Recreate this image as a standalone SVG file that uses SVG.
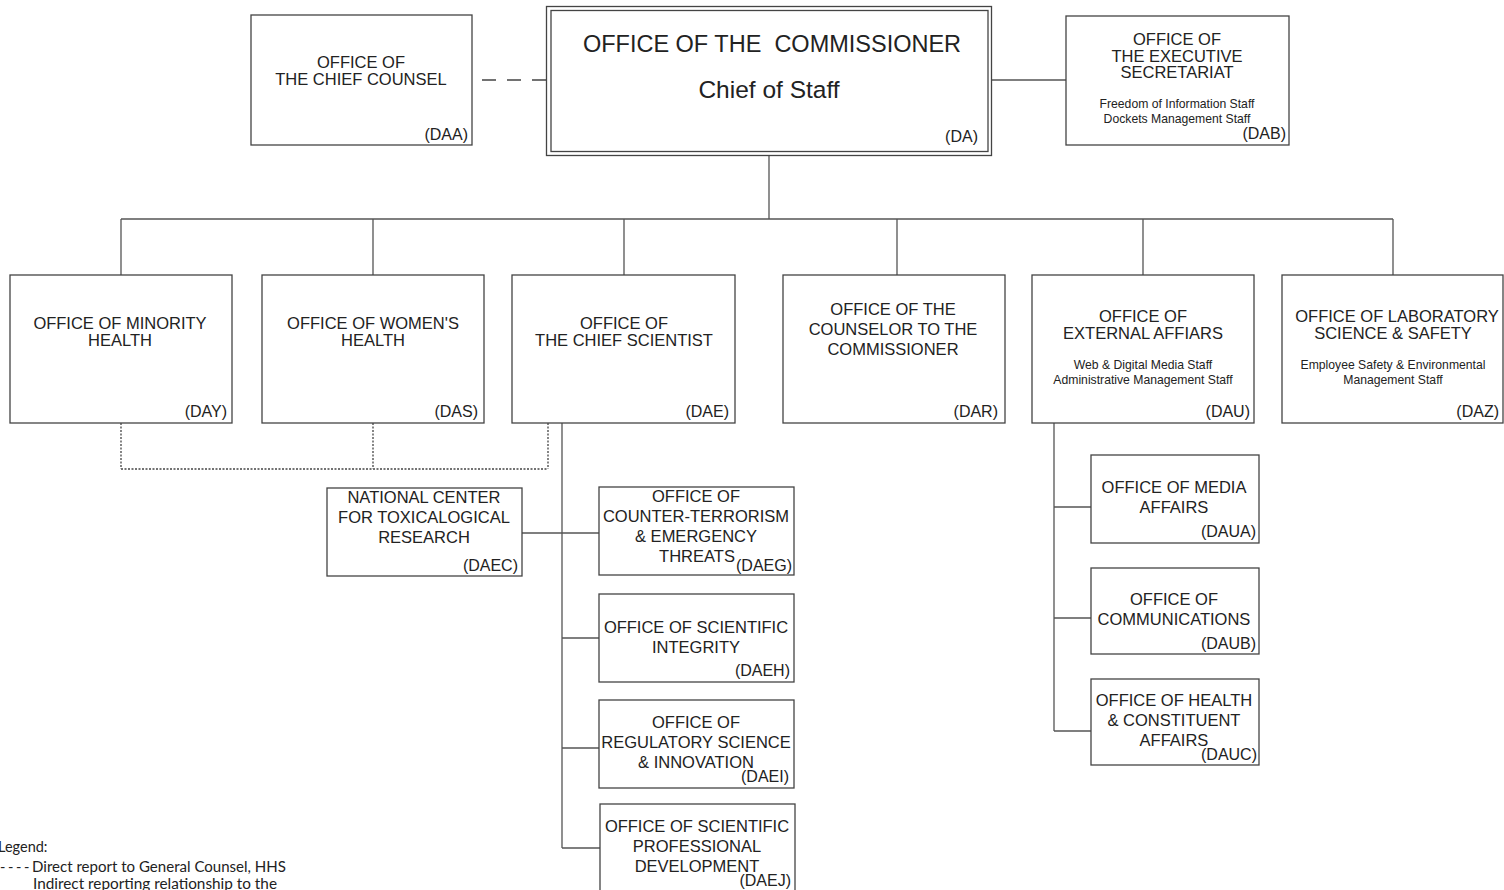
<svg xmlns="http://www.w3.org/2000/svg" width="1504" height="890" viewBox="0 0 1504 890">
<style>
.box{fill:#fff;stroke:#444;stroke-width:1.3}
.t{font-family:"Liberation Sans",Arial,sans-serif;font-size:16.5px;fill:#222;text-anchor:middle}
.c{font-family:"Liberation Sans",Arial,sans-serif;font-size:16px;fill:#222;text-anchor:end}
.s{font-family:"Liberation Sans",Arial,sans-serif;font-size:12.2px;fill:#222;text-anchor:middle}
.big{font-family:"Liberation Sans",Arial,sans-serif;font-size:23.5px;fill:#222;text-anchor:middle}
.ln{fill:none;stroke:#555;stroke-width:1.3}
.dash{fill:none;stroke:#444;stroke-width:1.5;stroke-dasharray:14 11}
.dot{fill:none;stroke:#444;stroke-width:1.3;stroke-dasharray:2 1.5}
.lg{font-family:Lato,"Open Sans",sans-serif;font-size:14.5px;fill:#222}
</style>
<rect width="1504" height="890" fill="#fff"/>
<g id="connectors">
<path class="dash" d="M546 80 H480"/>
<path class="ln" d="M992 80 H1066"/>
<path class="ln" d="M769 155 V219 M121 219 H1393 M121 219 V275 M373 219 V275 M624 219 V275 M897 219 V275 M1143 219 V275 M1393 219 V275"/>
<path class="dot" d="M121 423 V469 M373 423 V469 M548 423 V469 M121 469 H548"/>
<path class="ln" d="M562 423 V848 M522 533 H599 M562 638 H599 M562 748 H599 M562 848 H600"/>
<path class="ln" d="M1054 423 V731 M1054 507 H1091 M1054 618 H1091 M1054 731 H1091"/>
</g>
<g id="DAA">
<rect class="box" x="251" y="15" width="221" height="130"/>
<text class="t" x="361" y="68">OFFICE OF</text>
<text class="t" x="361" y="85">THE CHIEF COUNSEL</text>
<text class="c" x="468" y="140">(DAA)</text>
</g>
<g id="DA">
<rect class="box" x="546.5" y="6.5" width="445" height="149"/>
<rect class="box" x="551" y="10.5" width="437" height="141"/>
<text class="big" x="772" y="52">OFFICE OF THE&#160; COMMISSIONER</text>
<text class="big" x="769" y="98" style="font-size:24.5px">Chief of Staff</text>
<text class="c" x="978" y="142">(DA)</text>
</g>
<g id="DAB">
<rect class="box" x="1066" y="16" width="223" height="129"/>
<text class="t" x="1177" y="45">OFFICE OF</text>
<text class="t" x="1177" y="62">THE EXECUTIVE</text>
<text class="t" x="1177" y="78">SECRETARIAT</text>
<text class="s" x="1177" y="108">Freedom of Information Staff</text>
<text class="s" x="1177" y="123">Dockets Management Staff</text>
<text class="c" x="1286" y="139">(DAB)</text>
</g>
<g id="DAY">
<rect class="box" x="10" y="275" width="222" height="148"/>
<text class="t" x="120" y="329">OFFICE OF MINORITY</text>
<text class="t" x="120" y="346">HEALTH</text>
<text class="c" x="227" y="417">(DAY)</text>
</g>
<g id="DAS">
<rect class="box" x="262" y="275" width="222" height="148"/>
<text class="t" x="373" y="329">OFFICE OF WOMEN'S</text>
<text class="t" x="373" y="346">HEALTH</text>
<text class="c" x="478" y="417">(DAS)</text>
</g>
<g id="DAE">
<rect class="box" x="512" y="275" width="223" height="148"/>
<text class="t" x="624" y="329">OFFICE OF</text>
<text class="t" x="624" y="346">THE CHIEF SCIENTIST</text>
<text class="c" x="729" y="417">(DAE)</text>
</g>
<g id="DAR">
<rect class="box" x="783" y="275" width="222" height="148"/>
<text class="t" x="893" y="315">OFFICE OF THE</text>
<text class="t" x="893" y="335">COUNSELOR TO THE</text>
<text class="t" x="893" y="355">COMMISSIONER</text>
<text class="c" x="998" y="417">(DAR)</text>
</g>
<g id="DAU">
<rect class="box" x="1032" y="275" width="222" height="148"/>
<text class="t" x="1143" y="322">OFFICE OF</text>
<text class="t" x="1143" y="339">EXTERNAL AFFIARS</text>
<text class="s" x="1143" y="369">Web &amp; Digital Media Staff</text>
<text class="s" x="1143" y="384">Administrative Management Staff</text>
<text class="c" x="1250" y="417">(DAU)</text>
</g>
<g id="DAZ">
<rect class="box" x="1282" y="275" width="221" height="148"/>
<text class="t" x="1397" y="322">OFFICE OF LABORATORY</text>
<text class="t" x="1393" y="339">SCIENCE &amp; SAFETY</text>
<text class="s" x="1393" y="369">Employee Safety &amp; Environmental</text>
<text class="s" x="1393" y="384">Management Staff</text>
<text class="c" x="1499" y="417">(DAZ)</text>
</g>
<g id="DAEC">
<rect class="box" x="327" y="488" width="195" height="88"/>
<text class="t" x="424" y="503">NATIONAL CENTER</text>
<text class="t" x="424" y="523">FOR TOXICALOGICAL</text>
<text class="t" x="424" y="543">RESEARCH</text>
<text class="c" x="518" y="571">(DAEC)</text>
</g>
<g id="DAEG">
<rect class="box" x="599" y="487" width="195" height="88"/>
<text class="t" x="696" y="502">OFFICE OF</text>
<text class="t" x="696" y="522">COUNTER-TERRORISM</text>
<text class="t" x="696" y="542">&amp; EMERGENCY</text>
<text class="t" x="697" y="562">THREATS</text>
<text class="c" x="792" y="571">(DAEG)</text>
</g>
<g id="DAEH">
<rect class="box" x="599" y="594" width="195" height="88"/>
<text class="t" x="696" y="633">OFFICE OF SCIENTIFIC</text>
<text class="t" x="696" y="653">INTEGRITY</text>
<text class="c" x="790" y="676">(DAEH)</text>
</g>
<g id="DAEI">
<rect class="box" x="599" y="700" width="195" height="88"/>
<text class="t" x="696" y="728">OFFICE OF</text>
<text class="t" x="696" y="748">REGULATORY SCIENCE</text>
<text class="t" x="696" y="768">&amp; INNOVATION</text>
<text class="c" x="789" y="782">(DAEI)</text>
</g>
<g id="DAEJ">
<rect class="box" x="600" y="804" width="195" height="90"/>
<text class="t" x="697" y="832">OFFICE OF SCIENTIFIC</text>
<text class="t" x="697" y="852">PROFESSIONAL</text>
<text class="t" x="697" y="872">DEVELOPMENT</text>
<text class="c" x="791" y="886">(DAEJ)</text>
</g>
<g id="DAUA">
<rect class="box" x="1091" y="455" width="168" height="88"/>
<text class="t" x="1174" y="493">OFFICE OF MEDIA</text>
<text class="t" x="1174" y="513">AFFAIRS</text>
<text class="c" x="1256" y="537">(DAUA)</text>
</g>
<g id="DAUB">
<rect class="box" x="1091" y="568" width="168" height="86"/>
<text class="t" x="1174" y="605">OFFICE OF</text>
<text class="t" x="1174" y="625">COMMUNICATIONS</text>
<text class="c" x="1256" y="649">(DAUB)</text>
</g>
<g id="DAUC">
<rect class="box" x="1091" y="679" width="168" height="86"/>
<text class="t" x="1174" y="706">OFFICE OF HEALTH</text>
<text class="t" x="1174" y="726">&amp; CONSTITUENT</text>
<text class="t" x="1174" y="746">AFFAIRS</text>
<text class="c" x="1257" y="760">(DAUC)</text>
</g>
<g id="legend">
<text class="lg" x="-2" y="852">Legend:</text>
<text class="lg" x="0 8 16 24" y="872">----</text>
<text class="lg" x="32" y="872" textLength="254" lengthAdjust="spacingAndGlyphs">Direct report to General Counsel, HHS</text>
<text class="lg" x="33" y="889" textLength="244" lengthAdjust="spacingAndGlyphs">Indirect reporting relationship to the</text>
</g>
</svg>
